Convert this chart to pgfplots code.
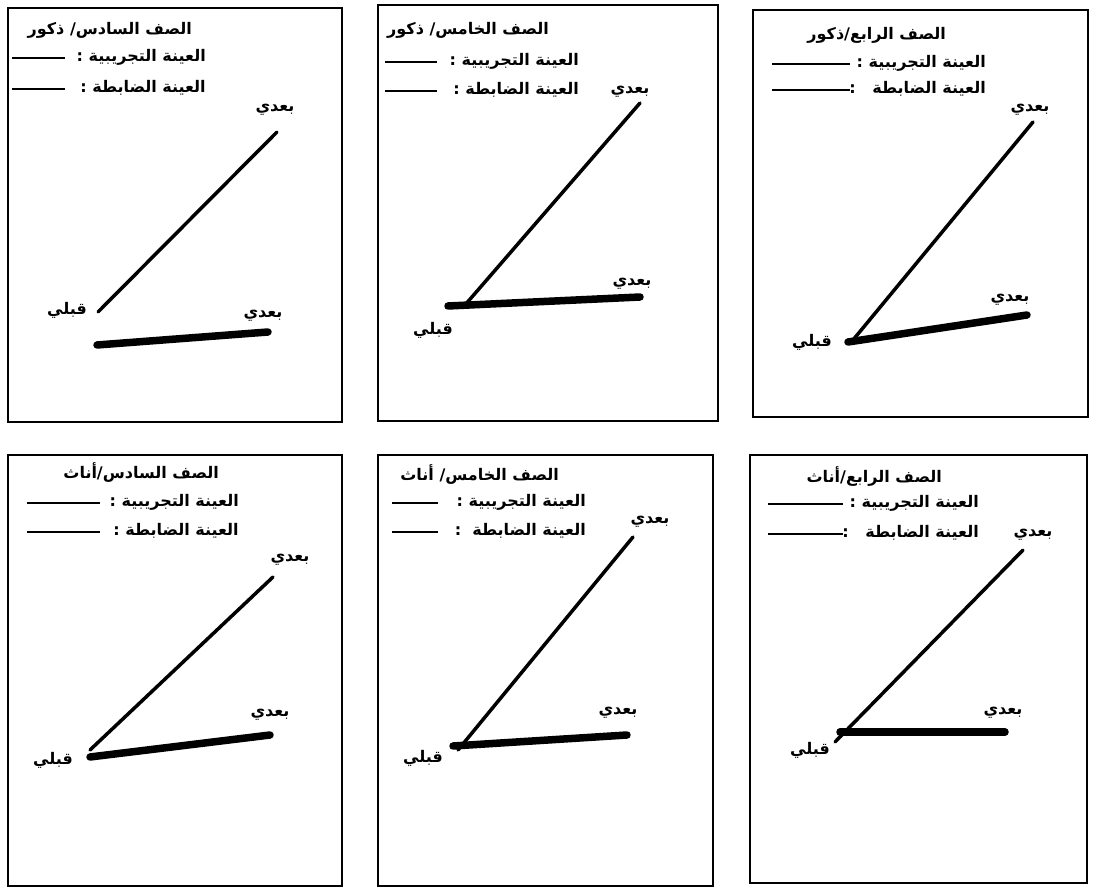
\documentclass[border=0pt]{standalone}
\usepackage{fontspec}
\usepackage{pgfplots}
\pgfplotsset{compat=1.18}
\TeXXeTstate=1
\newfontfamily\arabicfont[Script=Arabic,BoldFont={DejaVu Sans Bold}]{DejaVu Sans}
\newcommand\ar[1]{{\fontsize{16}{18}\selectfont\arabicfont\bfseries\beginR #1\endR}}

\pgfplotsset{panel/.style={scale only axis,y dir=reverse,clip=false,
  xtick=\empty,ytick=\empty,axis line style={line width=2.5pt}},
  exp/.style={black,line width=3.5pt,line cap=round,no marks},
  ctl/.style={black,line width=7.5pt,line cap=round,no marks}}

\begin{document}
\begin{tikzpicture}[every node/.style={inner sep=1pt}]
\path[use as bounding box] (0,0) rectangle (1093pt,889pt);

% sixth grade, boys
\begin{axis}[panel,at={(8pt,467pt)},anchor=south west,width=334pt,height=414pt,
  xmin=8,xmax=342,ymin=8,ymax=422]
\addplot[exp] coordinates {(98,312) (277,132)};
\addplot[ctl] coordinates {(97,345) (268,332)};
\node[anchor=east] at (193,30) {\ar{الصف السادس/ ذكور}};
\node[anchor=east] at (207,57) {\ar{العينة التجريبية :}};
\draw[line width=2pt] (12,58) -- (65,58);
\node[anchor=east] at (207,88) {\ar{العينة الضابطة :}};
\draw[line width=2.5pt] (12,89) -- (65,89);
\node at (67,310) {\ar{قبلي}};
\node at (275,110) {\ar{بعدي}};
\node at (263,316) {\ar{بعدي}};
\end{axis}

% fifth grade, boys
\begin{axis}[panel,at={(378pt,468pt)},anchor=south west,width=340pt,height=416pt,
  xmin=378,xmax=718,ymin=5,ymax=421]
\addplot[exp] coordinates {(465,305) (640,103)};
\addplot[ctl] coordinates {(448,306) (640,297)};
\node[anchor=east] at (550,30) {\ar{الصف الخامس/ ذكور}};
\node[anchor=east] at (580,61) {\ar{العينة التجريبية :}};
\draw[line width=2pt] (385,62) -- (437,62);
\node[anchor=east] at (580,90) {\ar{العينة الضابطة :}};
\draw[line width=2pt] (385,91) -- (437,91);
\node at (433,330) {\ar{قبلي}};
\node at (630,92) {\ar{بعدي}};
\node at (632,284) {\ar{بعدي}};
\end{axis}

% fourth grade, boys
\begin{axis}[panel,at={(753pt,472pt)},anchor=south west,width=335pt,height=407pt,
  xmin=753,xmax=1088,ymin=10,ymax=417]
\addplot[exp] coordinates {(853,340) (1033,122)};
\addplot[ctl] coordinates {(848,342) (1027,315)};
\node[anchor=east] at (947,35) {\ar{الصف الرابع/ذكور}};
\node[anchor=east] at (987,63) {\ar{العينة التجريبية :}};
\draw[line width=2pt] (772,64) -- (850,64);
\node[anchor=east] at (987,89) {\ar{العينة الضابطة \ \ :}};
\draw[line width=2pt] (772,90) -- (850,90);
\node at (812,342) {\ar{قبلي}};
\node at (1030,110) {\ar{بعدي}};
\node at (1010,300) {\ar{بعدي}};
\end{axis}

% sixth grade, girls
\begin{axis}[panel,at={(8pt,3pt)},anchor=south west,width=334pt,height=431pt,
  xmin=8,xmax=342,ymin=455,ymax=886]
\addplot[exp] coordinates {(90,750) (273,577)};
\addplot[ctl] coordinates {(90,757) (270,735)};
\node[anchor=east] at (220,473) {\ar{الصف السادس/أناث}};
\node[anchor=east] at (240,502) {\ar{العينة التجريبية :}};
\draw[line width=2pt] (27,503) -- (100,503);
\node[anchor=east] at (240,531) {\ar{العينة الضابطة :}};
\draw[line width=2pt] (27,532) -- (100,532);
\node at (53,760) {\ar{قبلي}};
\node at (290,560) {\ar{بعدي}};
\node at (270,715) {\ar{بعدي}};
\end{axis}

% fifth grade, girls
\begin{axis}[panel,at={(378pt,3pt)},anchor=south west,width=335pt,height=431pt,
  xmin=378,xmax=713,ymin=455,ymax=886]
\addplot[exp] coordinates {(458,750) (633,537)};
\addplot[ctl] coordinates {(453,746) (627,735)};
\node[anchor=east] at (560,475) {\ar{الصف الخامس/ أناث}};
\node[anchor=east] at (587,502) {\ar{العينة التجريبية :}};
\draw[line width=2pt] (392,503) -- (438,503);
\node[anchor=east] at (587,531) {\ar{العينة الضابطة \ :}};
\draw[line width=2pt] (392,532) -- (438,532);
\node at (423,758) {\ar{قبلي}};
\node at (650,522) {\ar{بعدي}};
\node at (618,713) {\ar{بعدي}};
\end{axis}

% fourth grade, girls
\begin{axis}[panel,at={(750pt,6pt)},anchor=south west,width=337pt,height=428pt,
  xmin=750,xmax=1087,ymin=455,ymax=883]
\addplot[exp] coordinates {(835,742) (1023,550)};
\addplot[ctl] coordinates {(840,732) (1005,732)};
\node[anchor=east] at (943,477) {\ar{الصف الرابع/أناث}};
\node[anchor=east] at (980,503) {\ar{العينة التجريبية :}};
\draw[line width=2pt] (768,504) -- (843,504);
\node[anchor=east] at (980,533) {\ar{العينة الضابطة \ \ :}};
\draw[line width=2pt] (768,534) -- (843,534);
\node at (810,750) {\ar{قبلي}};
\node at (1033,535) {\ar{بعدي}};
\node at (1003,713) {\ar{بعدي}};
\end{axis}
\end{tikzpicture}
\end{document}
